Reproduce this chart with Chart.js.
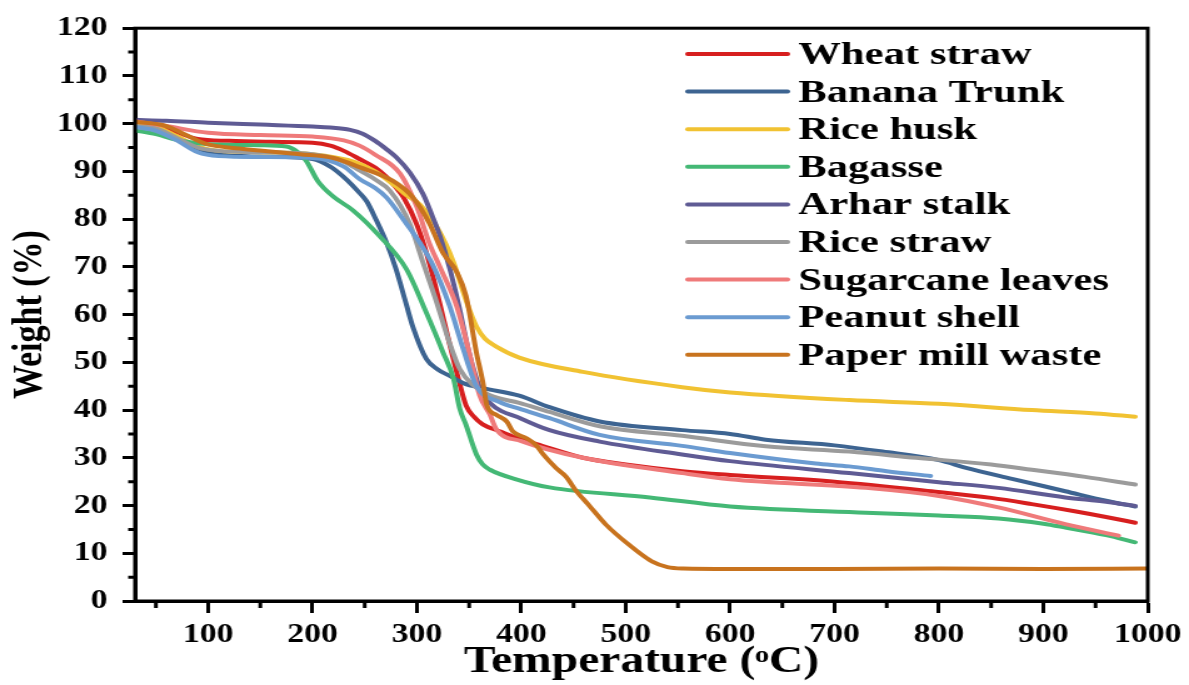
<!DOCTYPE html>
<html><head><meta charset="utf-8">
<script src="https://cdn.jsdelivr.net/npm/chart.js@4.4.1/dist/chart.umd.min.js"></script>
<style>
html,body{margin:0;padding:0;background:#fff;overflow:hidden;width:1189px;height:685px}
#c{display:block;transform:scaleX(1.25026);transform-origin:0 0}
</style>
</head><body>
<canvas id="c" width="951" height="685"></canvas>
<script>
// ---- data ----
const seriesLabels = ['Wheat straw','Banana Trunk','Rice husk','Bagasse','Arhar stalk','Rice straw','Sugarcane leaves','Peanut shell','Paper mill waste'];
const seriesColors = ['#d71f1f','#3d6491','#f1c232','#44b875','#5f5b94','#9b9b9b','#ef7a7a','#6b9bd1','#c8731e'];

const wheatT = [30,50,70,90,120,160,200,217,230,245,260,271,280,287,300,309,320,330,341,347,355,363,380,395,420,459,500,554,600,700,793,850,889,930,960,988];
const wheatW = [100,99.6,98.2,96.8,96.4,96.2,96,95.4,94.3,92.6,90.8,88.8,86.6,84.6,78.8,73,64,55,45.5,41,38.5,37,35.5,34.2,32.5,30,28.6,27.2,26.4,25,23,21.6,20.3,18.8,17.6,16.4];

const bananaT = [30,50,70,90,110,150,200,217,230,245,252,261,271,280,290,296,309,320,331,345,363,398,427,475,554,600,634,700,746,800,826,870,921,960,988];
const bananaW = [99.6,99,97,94.8,93.6,93.1,92.6,91,88.8,85.5,83.7,79.8,75,69.5,62,57.5,50.7,48.5,47.2,45.6,44.6,43,40.6,37.6,35.8,35,33.8,32.6,31.3,29.5,27.9,25.6,23,21,19.8];

const huskT = [30,50,70,90,110,150,200,240,260,280,290,303,320,335,347,357,365,376,398,459,554,600,714,800,889,950,988];
const huskW = [100,99.4,97.4,95.2,94.3,94,93.6,92,90,86.8,85,83,78,71,63,57.5,55,53.3,51,48,44.8,43.7,42.1,41.3,40,39.3,38.6];

const bagasseT = [30,50,70,100,150,175,186,194,205,220,239,264,290,309,325,335,341,347,357,363,370,395,427,523,600,730,800,857,900,921,960,988];
const bagasseW = [98.6,97.8,96.6,95.7,95.5,95.2,94,92.2,88,84.7,81.8,76.5,69.5,60.4,52.1,46.6,40.3,36.9,30.7,28.6,27.5,25.5,23.8,21.7,19.8,18.5,17.9,17.3,16.2,15.4,13.8,12.3];

const arharT = [30,60,100,150,200,217,236,248,260,270,280,293,306,315,322,331,340,350,360,370,400,427,475,554,600,714,800,857,921,960,988];
const arharW = [100.8,100.6,100.2,99.8,99.4,99.2,98.7,97.9,96.4,94.8,93,89.8,85.2,80.5,76.5,70,62,52,44.8,41.5,38.2,35.8,33.4,30.7,29.3,26.8,24.9,23.7,21.7,20.8,19.9];

const rstrawT = [30,50,70,90,110,150,200,230,245,260,274,293,306,319,331,341,354,370,398,427,475,554,634,714,778,850,889,940,988];
const rstrawW = [99.5,99,97,95,94.3,94,93.6,92,90.2,88.3,86,79.1,70.8,62.5,54.2,48.6,45.2,43.1,41.5,39.6,36.6,34.6,32.4,31.3,30,28.6,27.5,26,24.4];

const caneT = [30,60,100,150,200,230,245,260,284,300,312,322,338,350,360,370,376,400,459,554,600,730,800,857,921,972];
const caneW = [100.5,99.5,98.1,97.6,97.3,96.5,95.4,93.5,89.5,82.5,74.9,70,61.8,52.1,43.1,39,36,33.5,30,26.8,25.5,23.7,22,19.6,16.1,13.7];

const peanutT = [30,50,70,90,110,150,200,230,245,260,271,290,303,315,331,344,357,379,398,427,475,554,600,682,714,750,792];
const peanutW = [99.3,98.5,96.5,94,93.2,93,92.8,91,88.4,86.5,84.5,79,75,70.5,62,53,45,41.7,40.3,38.3,34.8,32.5,31,28.8,28.2,27.2,26.2];

const paperT = [30,60,80,99,130,188,220,245,277,296,312,325,338,347,357,363,367,376,386,392,405,414,421,433,443,452,465,481,503,525,540,555,600,700,800,900,1000];
const paperW = [100.4,99.5,97.5,95.7,94.8,93.6,92.8,90.9,88,84.6,79.1,72.9,69,63.9,52,46,41,39,37.6,35.5,34.1,32.7,30.7,27.9,26,23.2,20,16,11.8,8.3,7.1,6.8,6.7,6.7,6.8,6.7,6.8];

const xTickValues = [100,200,300,400,500,600,700,800,900,1000];
const xMinorValues = [50,150,250,350,450,550,650,750,850,950];
const yTickValues = [0,10,20,30,40,50,60,70,80,90,100,110,120];
const yMinorValues = [5,15,25,35,45,55,65,75,85,95,105,115];

const seriesData = [[wheatT,wheatW],[bananaT,bananaW],[huskT,huskW],[bagasseT,bagasseW],[arharT,arharW],[rstrawT,rstrawW],[caneT,caneW],[peanutT,peanutW],[paperT,paperW]];

// ---- chart ----
const FONT = '"Liberation Serif", "Times New Roman", serif';

const datasets = seriesData.map(([t, w], i) => ({
  label: seriesLabels[i],
  data: t.map((x, k) => ({x: x, y: w[k]})),
  borderColor: seriesColors[i],
  backgroundColor: seriesColors[i],
  borderWidth: 4,
  pointRadius: 0,
  fill: false,
  cubicInterpolationMode: 'monotone',
  borderCapStyle: 'round',
  borderJoinStyle: 'round',
  order: seriesLabels.length - i
}));

const framePlugin = {
  id: 'frameAndMinor',
  afterDraw(chart) {
    const {ctx, chartArea: a, scales: {x, y}} = chart;
    ctx.save();
    ctx.strokeStyle = '#000';
    ctx.lineWidth = 3;
    ctx.strokeRect(a.left, a.top, a.right - a.left, a.bottom - a.top);
    ctx.beginPath();
    yMinorValues.forEach(v => { const p = y.getPixelForValue(v); ctx.moveTo(a.left - 5.5, p); ctx.lineTo(a.left, p); });
    xMinorValues.forEach(v => { const p = x.getPixelForValue(v); ctx.moveTo(p, a.bottom); ctx.lineTo(p, a.bottom + 7); });
    ctx.stroke();
    ctx.restore();
  }
};

const legendPlugin = {
  id: 'insideLegend',
  afterDraw(chart) {
    const {ctx} = chart;
    const x0 = 550, x1 = 630, tx = 638.5, y0 = 54, dy = 37.6;
    ctx.save();
    ctx.font = 'bold 31px ' + FONT;
    ctx.textBaseline = 'middle';
    ctx.textAlign = 'left';
    chart.data.datasets.forEach((ds, i) => {
      const yy = y0 + i * dy;
      ctx.strokeStyle = ds.borderColor;
      ctx.lineWidth = 4;
      ctx.lineCap = 'round';
      ctx.beginPath(); ctx.moveTo(x0, yy); ctx.lineTo(x1, yy); ctx.stroke();
      ctx.fillStyle = '#000';
      ctx.save();
      ctx.translate(tx, yy + 2);
      ctx.scale(1.1, 1);
      ctx.fillText(ds.label, 0, 0);
      ctx.restore();
    });
    ctx.restore();
  }
};

new Chart(document.getElementById('c'), {
  type: 'line',
  data: {datasets},
  options: {
    responsive: false,
    animation: false,
    devicePixelRatio: 1,
    layout: {padding: {top: 23, right: 31, bottom: 0, left: 0}},
    plugins: {legend: {display: false}, tooltip: {enabled: false}},
    scales: {
      x: {
        type: 'linear', min: 30, max: 1000,
        afterBuildTicks: s => { s.ticks = xTickValues.map(v => ({value: v})); },
        afterFit: s => { s.height = 84; },
        ticks: {color: '#000', font: {family: FONT, size: 27, weight: 'bold'}, padding: 6, maxRotation: 0, autoSkip: false, callback: v => String(v)},
        grid: {drawOnChartArea: false, drawTicks: true, tickLength: 12, tickWidth: 3, tickColor: '#000'},
        border: {display: true, color: '#000', width: 3},
        title: {display: true, text: 'Temperature (\u1D52C)', color: '#000', font: {family: FONT, size: 38, weight: 'bold'}, padding: {top: 0, bottom: 0}}
      },
      y: {
        min: 0, max: 120,
        afterBuildTicks: s => { s.ticks = yTickValues.map(v => ({value: v})); },
        afterFit: s => { s.width = 108; },
        ticks: {color: '#000', font: {family: FONT, size: 27, weight: 'bold'}, padding: 12, callback: v => String(v)},
        grid: {drawOnChartArea: false, drawTicks: true, tickLength: 10, tickWidth: 3, tickColor: '#000'},
        border: {display: true, color: '#000', width: 3},
        title: {display: true, text: 'Weight (%)', color: '#000', font: {family: FONT, size: 34, weight: 'bold'}, padding: {top: 4, bottom: 0}}
      }
    }
  },
  plugins: [framePlugin, legendPlugin]
});
</script>
</body></html>
